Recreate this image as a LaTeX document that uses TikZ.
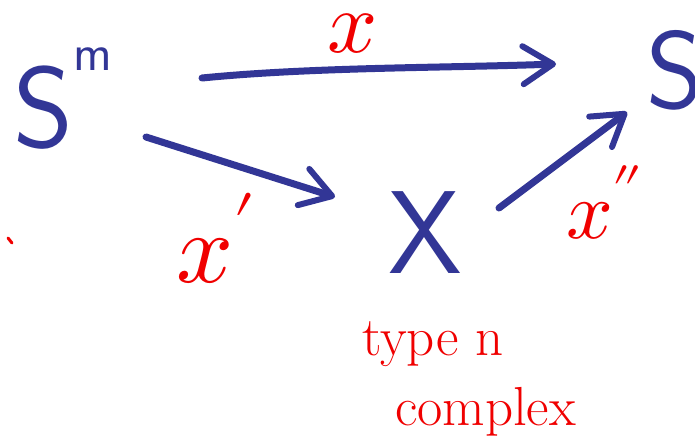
\documentclass[tikz,border=0pt]{standalone}
\usepackage{unicode-math}
\setmathfont{Latin Modern Math}
\usetikzlibrary{arrows.meta,calc}
\definecolor{inkblue}{RGB}{50,54,150}
\definecolor{inkred}{RGB}{240,0,0}
\tikzset{
  blueobj/.style={inner sep=0pt, outer sep=0pt, text=inkblue, font=\sffamily},
  redlbl/.style={inner sep=0pt, outer sep=0pt, text=inkred},
  arr/.style={draw=inkblue, line width=7pt, line cap=round, line join=round,
    -{Straight Barb[length=30pt, width=38pt, line width=6pt, round]}},
}
\begin{document}
\begin{tikzpicture}[x=1pt,y=-1pt]
\useasboundingbox[fill=white] (0,0) rectangle (695,442);
% objects
\node[blueobj, anchor=base west] (Sm) at (13,147)
  {\fontsize{115}{115}\selectfont S\raisebox{77pt}{\fontsize{52}{52}\selectfont m}};
\node[blueobj, anchor=base west] (S) at (646,108) {\fontsize{110}{110}\selectfont S};
\node[blueobj, anchor=base] (X) at (425,273) {\fontsize{118}{118}\selectfont X};
% arrows
\draw[arr] ($(Sm.base west)+(189,-69)$) .. controls ($(Sm.base west)+(300,-80)$) and ($(S.base west)+(-200,-40)$) .. ($(S.base west)+(-90,-44)$);
\draw[arr] ($(Sm.base west)+(133,-10)$) -- ($(X.base)+(-90,-76)$);
\draw[arr] ($(X.base)+(74,-65)$) -- ($(S.base west)+(-19,4)$);
% labels
\node[redlbl, anchor=base west] (lx) at (327,52) {\fontsize{88}{88}\selectfont$x$};
\node[redlbl, anchor=base west] (lx1) at (176,282) {\fontsize{100}{100}\selectfont$x'$};
\node[redlbl, anchor=base west] (lx2) at (566,238) {\fontsize{82}{82}\selectfont$x''$};
\node[redlbl, anchor=base west] (t1) at (362,355) {\fontsize{55}{55}\selectfont type n};
\node[redlbl, anchor=base west] (t2) at (395,425) {\fontsize{55}{55}\selectfont complex};
\draw[inkred, line width=3pt, line cap=round] (8,238) -- (12,243);
\end{tikzpicture}
\end{document}
